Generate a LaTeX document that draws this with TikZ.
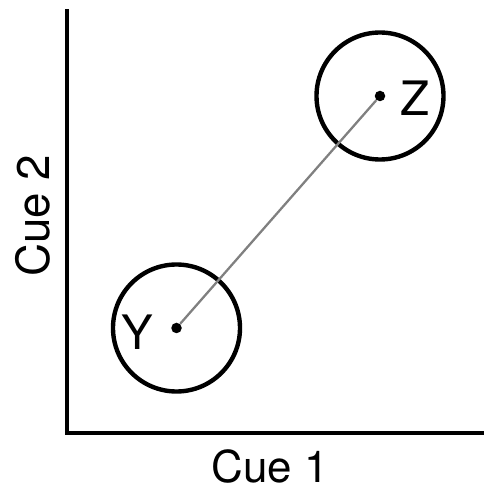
\documentclass[tikz,border=0pt]{standalone}
\usepackage{fontspec}
\setmainfont{TeX Gyre Heros}
\usepackage{tikz}

\begin{document}
\begin{tikzpicture}[scale=1]

\useasboundingbox (0,0) rectangle (9.66,9.84);

% ---------------- AXES ----------------

\coordinate (O) at (1.333,1.18);
\coordinate (Ytop) at (1.333,9.65);
\coordinate (Xend) at (9.7,1.18);

\draw[line width=2.4pt] (Ytop)--(O)--(Xend);

\node[font=\fontsize{25}{30}\selectfont,inner sep=0pt] (C1) at (5.4,0.52) {Cue 1};
\node[font=\fontsize{26}{30}\selectfont,inner sep=0pt,rotate=90] (C2) at (0.66,5.52) {Cue 2};

% ---------------- REGIONS ----------------

\node[circle,draw,line width=2.5pt,minimum size=2.54cm] (RY) at (3.53,3.28) {};
\node[circle,draw,line width=2.5pt,minimum size=2.54cm] (RZ) at (7.6,7.92) {};

\node[circle,fill,inner sep=0pt,minimum size=0.21cm] (Y) at (3.53,3.28) {};
\node[circle,fill,inner sep=0pt,minimum size=0.21cm] (Z) at (7.6,7.92) {};

\draw[gray,line width=1.3pt] (Y)--(Z);

\node[font=\fontsize{27}{30}\selectfont] (LY) at (2.74,3.2) {Y};
\node[font=\fontsize{27}{30}\selectfont] (LZ) at (8.3,7.88) {Z};

\end{tikzpicture}
\end{document}
